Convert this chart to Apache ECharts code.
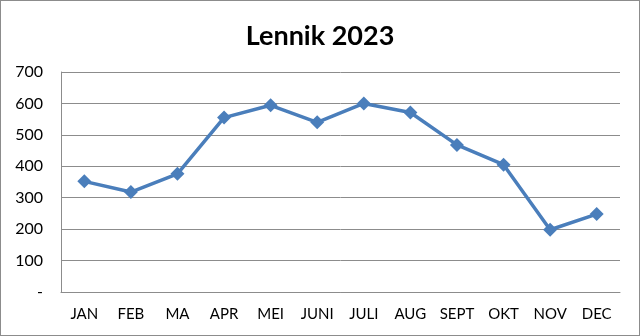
<!DOCTYPE html>
<html><head><meta charset="utf-8">
<script src="https://cdn.jsdelivr.net/npm/echarts@6/dist/echarts.min.js"></script>
<style>html,body{margin:0;padding:0;background:#fff}#c{width:640px;height:336px;box-sizing:border-box;border:1px solid #8c8c8c}</style>
</head><body><div id="c"></div>
<script>
const months = ['JAN','FEB','MA','APR','MEI','JUNI','JULI','AUG','SEPT','OKT','NOV','DEC'];
const values = [352, 318, 376, 555, 594, 540, 600, 571, 468, 405, 198, 248];
const titleText = 'Lennik 2023';
const chart = echarts.init(document.getElementById('c'));
chart.setOption({
  animation: false,
  title: { text: titleText, left: 'center', top: 17,
    textStyle: { fontFamily: 'Lato', fontWeight: 'bold', fontSize: 27, color: '#000' } },
  grid: { left: 60, right: 19, top: 71, bottom: 43 },
  xAxis: { type: 'category', data: months, boundaryGap: true,
    axisLine: { lineStyle: { color: '#8c8c8c' } }, axisTick: { show: false },
    axisLabel: { fontFamily: 'Lato', fontSize: 15, color: '#000', margin: 15 } },
  yAxis: { type: 'value', min: 0, max: 700, interval: 100,
    axisLine: { show: true, lineStyle: { color: '#8c8c8c' } }, axisTick: { show: false },
    splitLine: { lineStyle: { color: '#8c8c8c' } },
    axisLabel: { fontFamily: 'Lato', fontSize: 16, color: '#000', margin: 18,
      formatter: v => v === 0 ? '-' : String(v) } },
  series: [{ type: 'line', data: values, symbol: 'diamond', symbolSize: 14,
    lineStyle: { color: '#4a7ebb', width: 3.5 }, itemStyle: { color: '#4a7ebb' } }]
});
</script></body></html>
